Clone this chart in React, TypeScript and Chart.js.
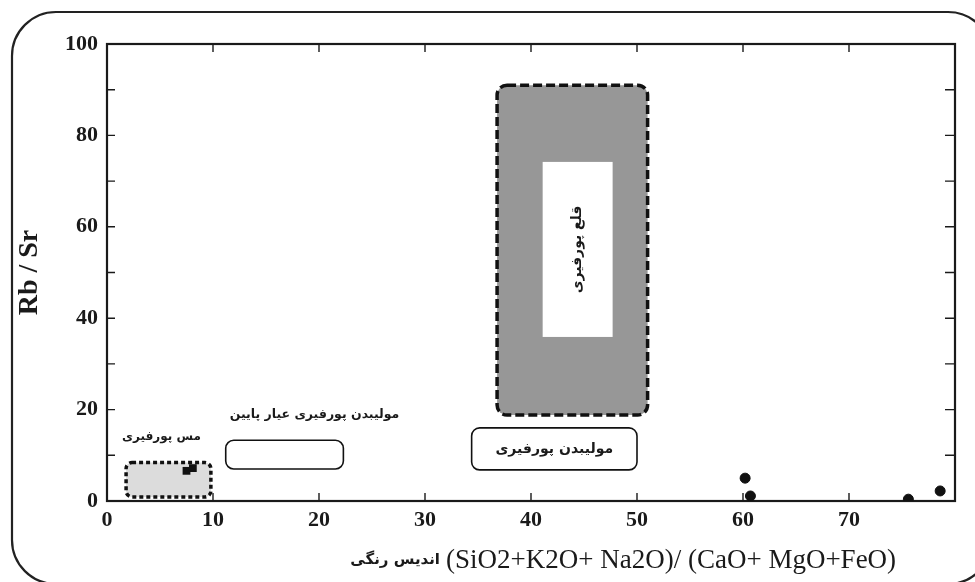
import React, { useEffect, useRef } from 'react';
import { Chart, registerables } from 'chart.js';

Chart.register(...registerables);

// ---- data ----
const regionNames = ['مس پورفیری', 'مولیبدن پورفیری عیار پایین', 'مولیبدن پورفیری', 'قلع پورفیری'];
const regionXMin = [1.8, 11.2, 34.4, 36.8];
const regionXMax = [9.8, 22.3, 50.0, 51.0];
const regionYMin = [0.9, 7.0, 6.8, 18.8];
const regionYMax = [8.4, 13.3, 16.0, 91.0];
const tinCoreX = [41.1, 47.7];
const tinCoreY = [35.9, 74.2];

const sampleX = [60.2, 60.7, 75.6, 78.6];
const sampleY = [5.0, 1.1, 0.4, 2.2];
const copperSampleX = [7.5, 8.1];
const copperSampleY = [6.6, 7.2];

const xTickStep = 10;
const yTickStep = 10;
const yLabelStep = 20;
const xMin = 0;
const xMax = 80;
const yMin = 0;
const yMax = 100;

const xTitleFa = 'اندیس رنگی';
const xTitleEn = '(SiO2+K2O+ Na2O)/ (CaO+ MgO+FeO)';
const yTitle = 'Rb / Sr';

// ---- styles ----
const SERIF = "'Liberation Serif', 'Times New Roman', serif";
const FA = "'DejaVu Sans', sans-serif";
const INK = '#1a1a1a';

const regionStyles = [
  { fill: '#dcdcdc', stroke: '#111', width: 3.5, dash: [4, 3], radius: 6, font: 12 },
  { fill: '#ffffff', stroke: '#111', width: 1.6, dash: [] as number[], radius: 8, font: 12.5 },
  { fill: '#ffffff', stroke: '#111', width: 1.6, dash: [] as number[], radius: 8, font: 14 },
  { fill: '#979797', stroke: '#111', width: 3.5, dash: [9, 4], radius: 10, font: 14 },
];

const decorPlugin = {
  id: 'decor',
  beforeDraw(chart: any) {
    const ctx = chart.ctx;
    ctx.save();
    ctx.fillStyle = '#ffffff';
    ctx.fillRect(0, 0, chart.width, chart.height);
    ctx.strokeStyle = '#222';
    ctx.lineWidth = 2.2;
    ctx.beginPath();
    ctx.roundRect(12, 12, 980, 572, 44);
    ctx.stroke();
    ctx.restore();
  },
  beforeDatasetsDraw(chart: any) {
    const ctx = chart.ctx;
    const xs = chart.scales.x;
    const ys = chart.scales.y;
    ctx.save();
    // regions
    for (let i = 0; i < regionNames.length; i++) {
      const st = regionStyles[i];
      const x1 = xs.getPixelForValue(regionXMin[i]);
      const x2 = xs.getPixelForValue(regionXMax[i]);
      const y1 = ys.getPixelForValue(regionYMax[i]);
      const y2 = ys.getPixelForValue(regionYMin[i]);
      ctx.beginPath();
      ctx.roundRect(x1, y1, x2 - x1, y2 - y1, st.radius);
      ctx.fillStyle = st.fill;
      ctx.fill();
      ctx.setLineDash(st.dash);
      ctx.lineWidth = st.width;
      ctx.strokeStyle = st.stroke;
      ctx.stroke();
      ctx.setLineDash([]);
    }
    // tin core
    const cx1 = xs.getPixelForValue(tinCoreX[0]);
    const cx2 = xs.getPixelForValue(tinCoreX[1]);
    const cy1 = ys.getPixelForValue(tinCoreY[1]);
    const cy2 = ys.getPixelForValue(tinCoreY[0]);
    ctx.fillStyle = '#ffffff';
    ctx.fillRect(cx1, cy1, cx2 - cx1, cy2 - cy1);

    // labels
    ctx.fillStyle = INK;
    ctx.textBaseline = 'middle';
    {
      const bx = xs.getPixelForValue(regionXMin[0]);
      const by = ys.getPixelForValue(regionYMax[0]);
      ctx.font = `bold ${regionStyles[0].font}px ${FA}`;
      ctx.textAlign = 'left';
      ctx.fillText(regionNames[0], bx - 4, by - 26);
    }
    {
      const bx = xs.getPixelForValue(regionXMin[1]);
      const by = ys.getPixelForValue(regionYMax[1]);
      ctx.font = `bold ${regionStyles[1].font}px ${FA}`;
      ctx.textAlign = 'left';
      ctx.fillText(regionNames[1], bx + 4, by - 25);
    }
    {
      const bx = (xs.getPixelForValue(regionXMin[2]) + xs.getPixelForValue(regionXMax[2])) / 2;
      const by = (ys.getPixelForValue(regionYMin[2]) + ys.getPixelForValue(regionYMax[2])) / 2;
      ctx.font = `bold ${regionStyles[2].font}px ${FA}`;
      ctx.textAlign = 'center';
      ctx.fillText(regionNames[2], bx, by);
    }
    {
      const bx = (cx1 + cx2) / 2;
      const by = (cy1 + cy2) / 2;
      ctx.save();
      ctx.translate(bx, by);
      ctx.rotate(-Math.PI / 2);
      ctx.font = `bold ${regionStyles[3].font}px ${FA}`;
      ctx.textAlign = 'center';
      ctx.fillText(regionNames[3], 0, 0);
      ctx.restore();
    }

    // axis frame + inward ticks
    const { left, right, top, bottom } = chart.chartArea;
    ctx.strokeStyle = '#1a1a1a';
    ctx.lineWidth = 2.2;
    ctx.strokeRect(left, top, right - left, bottom - top);
    ctx.lineWidth = 1.4;
    ctx.beginPath();
    xs.ticks.forEach((t: any) => {
      if (t.value <= xMin || t.value >= xMax) return;
      const px = xs.getPixelForValue(t.value);
      ctx.moveTo(px, bottom);
      ctx.lineTo(px, bottom - 8);
      ctx.moveTo(px, top);
      ctx.lineTo(px, top + 8);
    });
    ys.ticks.forEach((t: any) => {
      if (t.value <= yMin || t.value >= yMax) return;
      const py = ys.getPixelForValue(t.value);
      ctx.moveTo(left, py);
      ctx.lineTo(left + 8, py);
      ctx.moveTo(right, py);
      ctx.lineTo(right - 10, py);
    });
    ctx.stroke();
    ctx.restore();
  },
  afterDraw(chart: any) {
    const ctx = chart.ctx;
    const { left, bottom } = chart.chartArea;
    ctx.save();
    ctx.fillStyle = INK;
    ctx.textBaseline = 'alphabetic';
    ctx.textAlign = 'left';
    ctx.font = `27px ${SERIF}`;
    const enX = left + 339;
    ctx.fillText(xTitleEn, enX, bottom + 67);
    ctx.font = `bold 15px ${FA}`;
    ctx.textAlign = 'right';
    ctx.fillText(xTitleFa, enX - 6, bottom + 63);
    ctx.restore();
  },
};

export default function App() {
  const ref = useRef<HTMLCanvasElement | null>(null);
  useEffect(() => {
    document.body.style.margin = '0';
    if (!ref.current) return;
    const chart = new Chart(ref.current, {
      type: 'scatter',
      data: {
        datasets: [
          {
            label: 'samples',
            data: sampleX.map((x, i) => ({ x, y: sampleY[i] })),
            backgroundColor: '#111',
            borderColor: '#111',
            pointRadius: 5,
            pointHoverRadius: 5,
          },
          {
            label: 'copper samples',
            data: copperSampleX.map((x, i) => ({ x, y: copperSampleY[i] })),
            backgroundColor: '#111',
            borderColor: '#111',
            pointStyle: 'rect',
            pointRadius: 5.5,
            pointHoverRadius: 5.5,
            borderWidth: 0,
          },
        ],
      },
      options: {
        responsive: false,
        animation: false,
        events: [],
        layout: { padding: { left: 0, top: 44, right: 20, bottom: 0 } },
        plugins: { legend: { display: false }, tooltip: { enabled: false } },
        scales: {
          x: {
            type: 'linear',
            min: xMin,
            max: xMax,
            grid: { display: false, drawTicks: false },
            border: { display: false },
            ticks: {
              stepSize: xTickStep,
              padding: 6,
              autoSkip: false,
              maxRotation: 0,
              color: INK,
              font: { family: SERIF, size: 22, weight: 'bold' },
              callback: (v: any) => (v === xMax ? '' : String(v)),
            },
            afterFit: (s: any) => {
              s.height = 81;
            },
          },
          y: {
            type: 'linear',
            min: yMin,
            max: yMax,
            grid: { display: false, drawTicks: false },
            border: { display: false },
            ticks: {
              stepSize: yTickStep,
              padding: 9,
              autoSkip: false,
              color: INK,
              font: { family: SERIF, size: 22, weight: 'bold' },
              callback: (v: any) => (v % yLabelStep === 0 ? String(v) : ''),
            },
            title: {
              display: true,
              text: yTitle,
              color: INK,
              font: { family: SERIF, size: 28, weight: 'bold' },
              padding: { top: 13, bottom: 0 },
            },
            afterFit: (s: any) => {
              s.width = 107;
            },
          },
        },
      },
      plugins: [decorPlugin],
    });
    return () => chart.destroy();
  }, []);
  return <canvas ref={ref} width={975} height={582} style={{ display: 'block' }} />;
}
